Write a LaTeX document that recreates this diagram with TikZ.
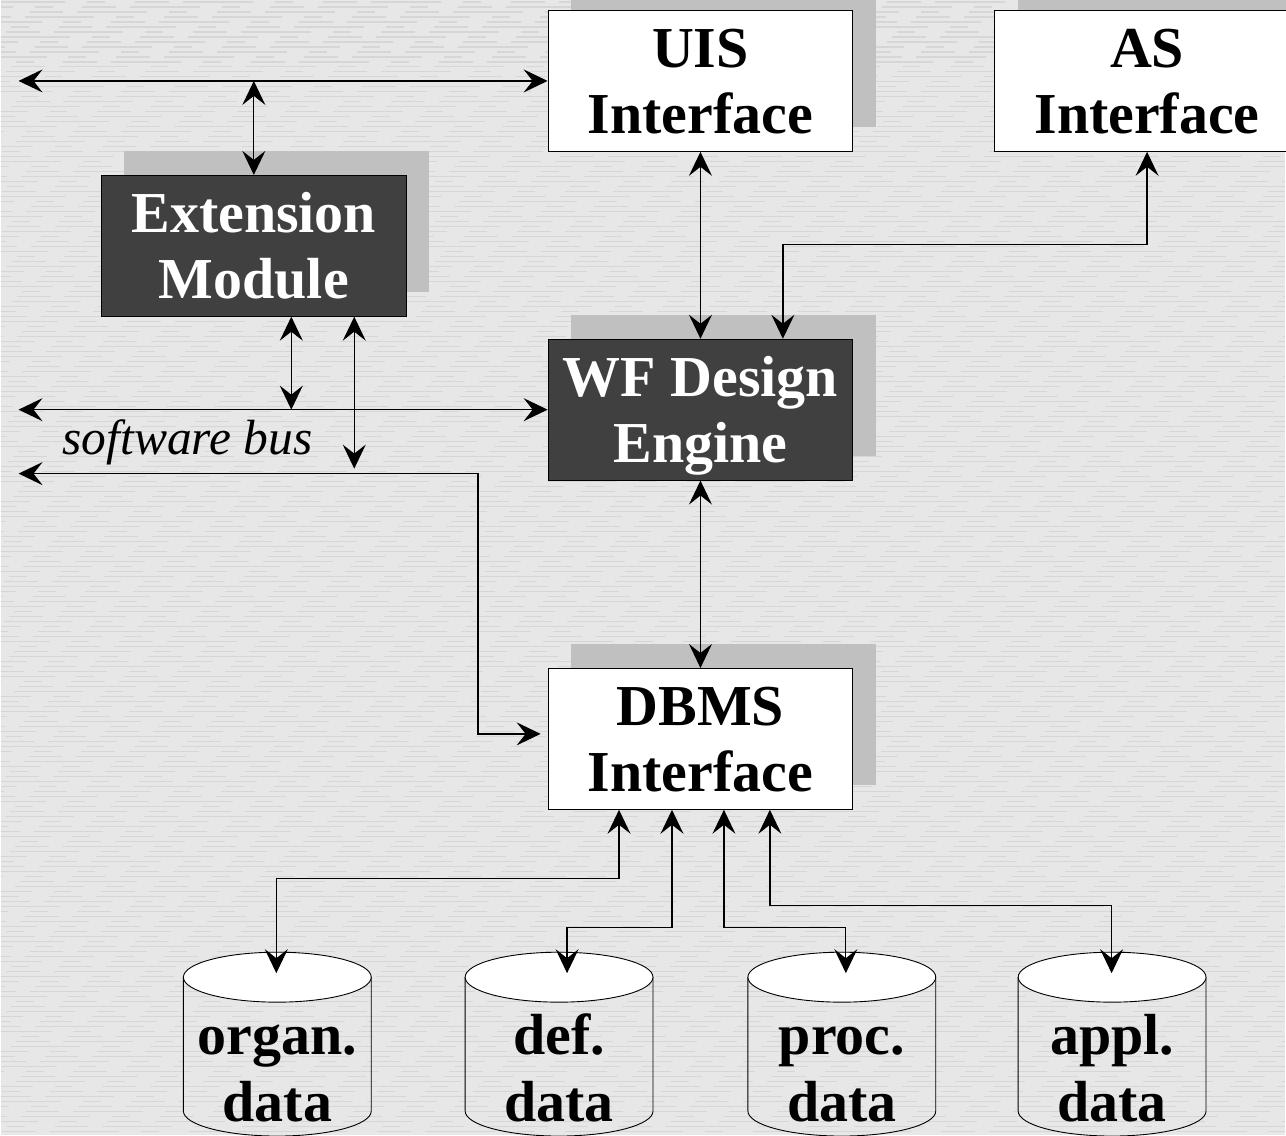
\documentclass[tikz,border=0pt]{standalone}
\usepackage{fontspec}
\setmainfont{Liberation Serif}
\usetikzlibrary{arrows.meta,shadows,calc,shapes.geometric}

\definecolor{bggray}{HTML}{E7E7E7}
\definecolor{grain}{HTML}{D6D6D6}
\definecolor{shadowgray}{HTML}{C0C0C0}
\definecolor{darkbox}{HTML}{404040}

\tikzset{
  boxbase/.style={draw=black, line width=0.9pt, minimum width=305pt, minimum height=141pt,
    inner sep=0pt, align=center, text depth=-12pt, font=\fontsize{58pt}{66pt}\selectfont\bfseries,
    general shadow={fill=shadowgray, shadow xshift=23pt, shadow yshift=24pt}},
  lightbox/.style={boxbase, fill=white, text=black},
  darkmodule/.style={boxbase, fill=darkbox, text=white},
  cyltext/.style={align=center, inner sep=0pt, anchor=base, font=\fontsize{58pt}{67pt}\selectfont\bfseries},
  cylline/.style={draw=black, line width=0.9pt},
  link/.style={line width=1.3pt, >={Stealth[length=24pt, width=23pt, inset=9pt]}, <->},
  texture/.style={draw=grain, line width=1.1pt, dash pattern=on 34pt off 14pt on 70pt off 22pt on 18pt off 30pt},
}

\begin{document}
\begin{tikzpicture}[x=1pt, y=-1pt]
  % canvas and its woven grain
  \fill[bggray] (0,0) rectangle (1286,1136);
  \foreach \y [count=\i] in {2,7,...,1136} {
    \pgfmathsetmacro\ph{mod(\i*53,188)}
    \draw[texture, dash phase=\ph pt] (0,\y) -- (1286,\y);
  }
  \useasboundingbox (0,0) rectangle (1286,1136);

  % modules
  \node[lightbox]   (uis)  at (700.5,81)   {UIS\\Interface};
  \node[lightbox]   (as)   at (1147.5,81)  {AS\\Interface};
  \node[darkmodule] (ext)  at (253.5,246)  {Extension\\Module};
  \node[darkmodule] (wf)   at (700.5,410)  {WF Design\\Engine};
  \node[lightbox]   (dbms) at (700.5,739.5){DBMS\\Interface};

  % data stores
  \foreach \cx/\nm/\lab in {277/organ/organ., 559/def/def., 842/proc/proc., 1112.5/appl/appl.} {
    \draw[cylline] (\cx-94,978) -- (\cx-94,1112)
      arc[start angle=180, end angle=360, x radius=94pt, y radius=25pt] -- (\cx+94,978);
    \node[cylline, fill=white, ellipse, minimum width=188pt, minimum height=50pt, inner sep=0pt]
      (\nm top) at (\cx,978) {};
    \node[cyltext] (\nm data) at (\cx,1122) {\lab\\data};
  }

  % bus ends and store entry points
  \coordinate (busA) at (18,81);
  \coordinate (busB) at (18,410);
  \coordinate (busC) at (18,474);
  \coordinate (busCturn) at (478,474);
  \coordinate (s1) at (276,974);
  \coordinate (s2) at (567,974);
  \coordinate (s3) at (846,974);
  \coordinate (s4) at (1112,974);

  \node[font=\fontsize{49.5pt}{54pt}\selectfont\itshape, anchor=base west, inner sep=0pt]
    (buslabel) at (62,455) {software bus};

  % upper bus
  \draw[link] (busA) -- (uis.west);
  \draw[link] (ext.north) -- (ext.north |- busA);

  % software bus and its taps
  \draw[link] (busB) -- (wf.west);
  \coordinate (e1) at ([xshift=37.5pt]ext.south);
  \coordinate (e2) at ([xshift=100.5pt]ext.south);
  \draw[link] (e1) -- (e1 |- busB);
  \draw[link] (e2) -- ($(e2 |- busC)+(0,-5)$);
  \draw[link, shorten >=7pt] (busC) -- (busCturn) |- ([yshift=5pt]dbms.west);

  % engine links
  \draw[link] (uis.south) -- (wf.north);
  \draw[link] (as.south) -- ++(0,93) -| ([xshift=82.5pt]wf.north);
  \draw[link] (wf.south) -- (dbms.north);

  % store links
  \draw[link] ([xshift=-81.5pt]dbms.south) -- ++(0,69) -| (s1);
  \draw[link] ([xshift=-28.5pt]dbms.south) -- ++(0,118) -| (s2);
  \draw[link] ([xshift=23.5pt]dbms.south) -- ++(0,118) -| (s3);
  \draw[link] ([xshift=69.5pt]dbms.south) -- ++(0,96) -| (s4);
\end{tikzpicture}
\end{document}
